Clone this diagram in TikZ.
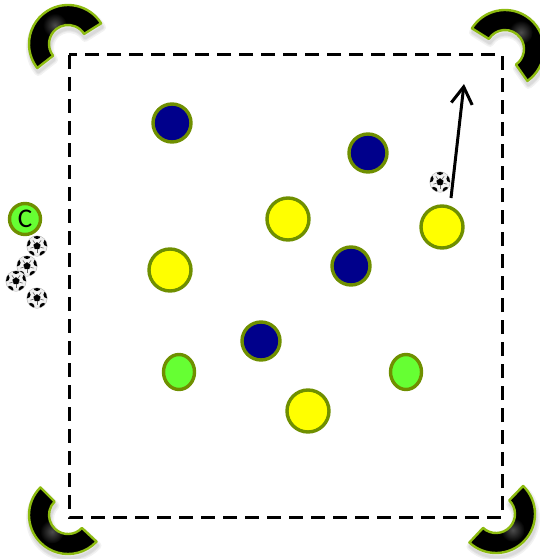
\documentclass[tikz,border=0pt]{standalone}
\usepackage{fontspec}
\setmainfont{Carlito}
\usetikzlibrary{arrows.meta,shapes.geometric,calc}
\definecolor{navyplayer}{HTML}{00008B}
\definecolor{yellowplayer}{HTML}{FFFF00}
\definecolor{greenplayer}{HTML}{66FF33}
\definecolor{olive}{HTML}{6F8F00}
\definecolor{goalgreen}{HTML}{8DBB10}
\newcommand{\goalpath}[4]{(#1,#2) ++(#3:39) arc[start angle=#3,end angle=#4,radius=39] -- ($(#1,#2)+(#4:19)$) arc[start angle=#4,end angle=#3,radius=19] -- cycle}
\newcommand{\goal}[4]{%
\foreach \w in {8,5,3} {\draw[black,opacity=.05,line width=\w,line join=round,shift={(1,-4)}] \goalpath{#1}{#2}{#3}{#4};}
\fill[black] \goalpath{#1}{#2}{#3}{#4};
\begin{scope}
\clip \goalpath{#1}{#2}{#3}{#4};
\pgfmathsetmacro{\midangle}{(#3+#4)/2}
\shade[inner color=black!70,outer color=black] ($(#1,#2)+(\midangle:23)$) circle (12);
\end{scope}
\draw[goalgreen,line width=2.4,line join=round] \goalpath{#1}{#2}{#3}{#4};
}
\tikzset{
player/.style={circle,draw=olive,line width=3.4,inner sep=0pt,minimum size=38},
ball/.pic={
\fill[black!30] (0,0) circle (10.5);
\shade[inner color=white,inner color=white,outer color=black!8] (0,0) circle (10);
\begin{scope}
\clip (0,0) circle (10);
\fill[black] (90:3.8) -- (18:3.8) -- (-54:3.8) -- (-126:3.8) -- (162:3.8) -- cycle;
\foreach \a in {90,162,234,306,18} {\fill[black] (\a:10.5) circle (3.6);}
\foreach \a in {54,126,198,270,342} {\draw[black!60,line width=.6] (\a:3) -- (\a:7);}
\end{scope}
}
}
\begin{document}
\begin{tikzpicture}[x=1pt,y=1pt]
\useasboundingbox (0,0) rectangle (540,-559);
\begin{scope}
\clip (0,0) rectangle (540,-559);
\goal{68}{-44}{32}{218}
\goal{505}{-49}{148}{-55}
\goal{68}{-515}{135}{317}
\goal{496}{-514}{46}{-133}
\end{scope}
\draw[black,line width=3,dash pattern=on 14 off 8] (69,-55) rectangle (502,-517);
\pic at (37,-246) {ball};
\pic at (27,-266) {ball};
\pic at (16,-281) {ball};
\pic at (37,-298) {ball};
\pic at (440,-182) {ball};
\node[player,fill=greenplayer,minimum size=31,font=\fontsize{27}{27}\selectfont] (coach) at (25,-219) {C};
\node[player,fill=navyplayer] (navyA) at (172,-123) {};
\node[player,fill=navyplayer] (navyB) at (368,-153) {};
\node[player,fill=navyplayer] (navyC) at (351,-266) {};
\node[player,fill=navyplayer] (navyD) at (261,-341) {};
\node[player,fill=yellowplayer,minimum size=42] (yellowA) at (288,-219) {};
\node[player,fill=yellowplayer,minimum size=42] (yellowB) at (442,-227) {};
\node[player,fill=yellowplayer,minimum size=42] (yellowC) at (170,-270) {};
\node[player,fill=yellowplayer,minimum size=42] (yellowD) at (308,-411) {};
\node[player,ellipse,fill=greenplayer,minimum width=31,minimum height=35] (greenA) at (179,-372) {};
\node[player,ellipse,fill=greenplayer,minimum width=31,minimum height=35] (greenB) at (406,-372) {};
\coordinate (runstart) at (451,-198);
\coordinate (runend) at (464,-84);
\draw[-{Straight Barb[length=17,width=21]},black,line width=3] (runstart) -- (runend);
\end{tikzpicture}
\end{document}
